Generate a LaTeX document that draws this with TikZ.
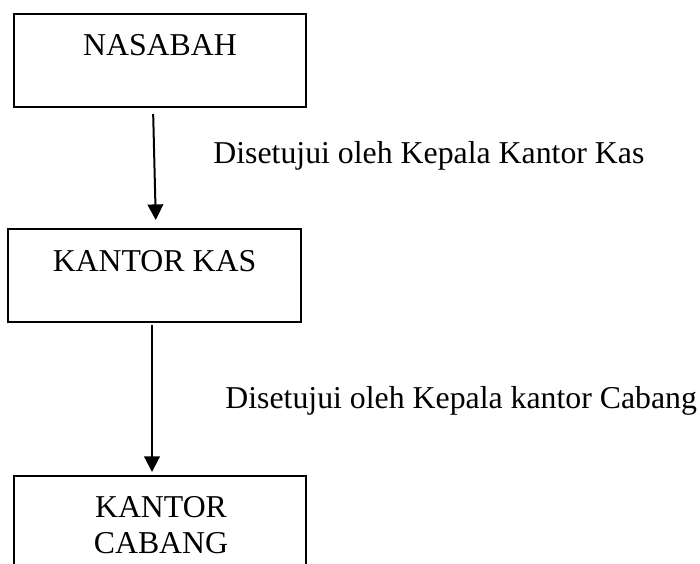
\documentclass[tikz,border=0pt]{standalone}
\usepackage{fontspec}
\setmainfont{Liberation Serif}
\usetikzlibrary{arrows.meta}
\begin{document}
\begin{tikzpicture}[x=0.5pt,y=-0.5pt,
  box/.style={draw=black,line width=1pt,rectangle,inner sep=0pt,outer sep=0pt,minimum width=146pt},
  txt/.style={font=\fontsize{15.9}{18}\selectfont,inner sep=0pt},
  arr/.style={line width=1pt,-{Triangle[width=7.8pt,length=7.8pt]}}]
\useasboundingbox (0,0) rectangle (700,563);
\clip (0,0) rectangle (700,563);
\fill[white] (0,0) rectangle (700,563);
% boxes
\node[box,minimum height=46.5pt] (b1) at (160,60.5) {};
\node[box,minimum height=46.5pt,minimum width=146.5pt] (b2) at (154.5,275.5) {};
\node[box,minimum height=72pt] (b3) at (160,548) {};
\node[txt,anchor=base] (t1) at (160,55) {NASABAH};
\node[txt,anchor=base] (t2) at (154.5,271) {KANTOR KAS};
\node[txt,anchor=base] (t3a) at (161,517) {KANTOR};
\node[txt,anchor=base] (t3b) at (161,553) {CABANG};
% connectors
\draw[arr,shorten <=3.5pt,shorten >=4.5pt] ([xshift=-3.5pt]b1.south) -- ([xshift=0.75pt]b2.north);
\draw[arr,shorten <=1.5pt,shorten >=2pt] ([xshift=-1.25pt]b2.south) -- ([xshift=-4pt]b3.north);
% labels
\node[txt,anchor=base west] (l1) at (213,163) {Disetujui oleh Kepala Kantor Kas};
\node[txt,anchor=base west] (l2) at (225,408) {Disetujui oleh Kepala kantor Cabang};
\end{tikzpicture}
\end{document}
